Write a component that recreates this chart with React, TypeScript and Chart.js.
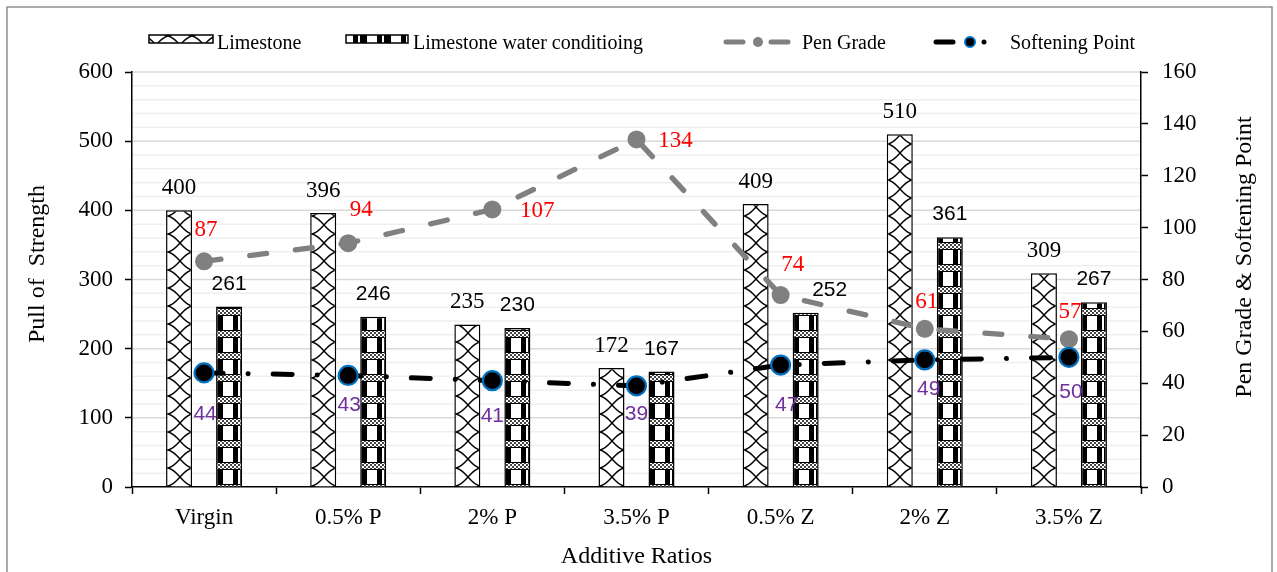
import React, { useEffect, useRef } from 'react';
import { Chart, registerables } from 'chart.js';

Chart.register(...registerables);

// ---------- data ----------
const categories = ['Virgin', '0.5% P', '2% P', '3.5% P', '0.5% Z', '2% Z', '3.5% Z'];
const limestone = [400, 396, 235, 172, 409, 510, 309];
const limestoneWater = [261, 246, 230, 167, 252, 361, 267];
const penGrade = [87, 94, 107, 134, 74, 61, 57];
const softeningPoint = [44, 43, 41, 39, 47, 49, 50];
const leftAxis = { min: 0, max: 600, step: 100, minorStep: 20 };
const rightAxis = { min: 0, max: 160, step: 20 };
const seriesNames = ['Limestone', 'Limestone water conditioing', 'Pen Grade', 'Softening Point'];
const axisTitles = { x: 'Additive Ratios', left: 'Pull of  Strength', right: 'Pen Grade & Softening Point' };

// ---------- styling (label nudges, not data) ----------
const waterLabelDx = [0, 0, 0, 0, 24, 0, 0];
const penLabelOffsets = [[2, -33], [13, -35], [45, 0], [39, 0], [12, -32], [2, -29], [1, -29]];
const softLabelOffsets = [[1, 40], [1, 28], [0, 34], [0, 27], [6, 39], [4, 28], [2, 34]];

const SERIF = '"Liberation Serif", "Times New Roman", serif';
const SANS = '"Liberation Sans", Arial, sans-serif';

function makeLimestonePattern(): CanvasPattern | string {
  const c = document.createElement('canvas');
  c.width = 24;
  c.height = 18;
  const g = c.getContext('2d');
  if (!g) return '#fff';
  g.fillStyle = '#fff';
  g.fillRect(0, 0, 24, 18);
  g.strokeStyle = '#000';
  g.lineWidth = 1.4;
  g.beginPath();
  g.moveTo(0, 0);
  g.bezierCurveTo(10, 2, 14, 16, 24, 18);
  g.moveTo(24, 0);
  g.bezierCurveTo(14, 2, 10, 16, 0, 18);
  g.stroke();
  const p = g.createPattern(c, 'repeat');
  return p || '#fff';
}

function makeWaterPattern(): CanvasPattern | string {
  const c = document.createElement('canvas');
  c.width = 24;
  c.height = 22;
  const g = c.getContext('2d');
  if (!g) return '#888';
  g.fillStyle = '#fff';
  g.fillRect(0, 0, 24, 22);
  g.fillStyle = '#000';
  g.fillRect(0, 8, 7, 14);
  g.fillRect(17, 8, 5, 14);
  g.fillStyle = '#444';
  for (let y = 0; y < 8; y += 2) {
    for (let x = 0; x < 24; x += 2) {
      if (((x + y) / 2) % 2 === 0) g.fillRect(x, y, 2, 2);
    }
  }
  g.fillStyle = '#000';
  g.fillRect(0, 0, 24, 1);
  g.fillRect(0, 7, 24, 1);
  const p = g.createPattern(c, 'repeat');
  return p || '#888';
}

function drawCentered(ctx: CanvasRenderingContext2D, text: string, cx: number, cy: number, size: number, family: string, color: string) {
  ctx.font = `${size}px ${family}`;
  ctx.fillStyle = color;
  ctx.textAlign = 'center';
  ctx.textBaseline = 'alphabetic';
  ctx.fillText(text, cx, cy + size * 0.34);
}

function drawVerticalTitle(ctx: CanvasRenderingContext2D, text: string, cx: number, cy: number, size: number) {
  ctx.save();
  ctx.translate(cx, cy);
  ctx.rotate(-Math.PI / 2);
  ctx.font = `${size}px ${SERIF}`;
  ctx.fillStyle = '#000';
  ctx.textAlign = 'center';
  ctx.textBaseline = 'middle';
  ctx.fillText(text, 0, 0);
  ctx.restore();
}

export default function App() {
  const ref = useRef<HTMLCanvasElement>(null);

  useEffect(() => {
    const canvas = ref.current;
    if (!canvas) return;
    const limePat = makeLimestonePattern();
    const waterPat = makeWaterPattern();

    const backgroundPlugin = {
      id: 'bgGrid',
      beforeDraw(chart: any) {
        const { ctx, chartArea, scales } = chart;
        ctx.save();
        ctx.fillStyle = '#fff';
        ctx.fillRect(0, 0, chart.width, chart.height);
        ctx.strokeStyle = '#767676';
        ctx.lineWidth = 1.2;
        ctx.strokeRect(7, 7, 1265, 620);
        const ys = scales.y;
        for (let v = leftAxis.min + leftAxis.minorStep; v <= leftAxis.max; v += leftAxis.minorStep) {
          const py = ys.getPixelForValue(v);
          ctx.strokeStyle = v % leftAxis.step === 0 ? '#d9d9d9' : '#efefef';
          ctx.lineWidth = 1.5;
          ctx.beginPath();
          ctx.moveTo(chartArea.left, py);
          ctx.lineTo(chartArea.right, py);
          ctx.stroke();
        }
        ctx.restore();
      },
    };

    const labelPlugin = {
      id: 'valueLabels',
      afterDatasetsDraw(chart: any) {
        const { ctx } = chart;
        ctx.save();
        const m0 = chart.getDatasetMeta(0);
        const m1 = chart.getDatasetMeta(1);
        const m2 = chart.getDatasetMeta(2);
        const m3 = chart.getDatasetMeta(3);
        m0.data.forEach((el: any, i: number) => {
          drawCentered(ctx, String(limestone[i]), el.x, el.y - 24, 23, SERIF, '#000');
        });
        m1.data.forEach((el: any, i: number) => {
          drawCentered(ctx, String(limestoneWater[i]), el.x + waterLabelDx[i], el.y - 24, 21, SANS, '#000');
        });
        m2.data.forEach((el: any, i: number) => {
          const [dx, dy] = penLabelOffsets[i];
          drawCentered(ctx, String(penGrade[i]), el.x + dx, el.y + dy, 23, SERIF, '#FF0000');
        });
        m3.data.forEach((el: any, i: number) => {
          const [dx, dy] = softLabelOffsets[i];
          drawCentered(ctx, String(softeningPoint[i]), el.x + dx, el.y + dy, 21, SANS, '#7030A0');
        });
        ctx.restore();
      },
    };

    const legendPlugin = {
      id: 'customLegend',
      afterDraw(chart: any) {
        const { ctx } = chart;
        ctx.save();
        // axis titles (both read bottom-to-top)
        drawVerticalTitle(ctx, axisTitles.left, 38, 264, 24);
        drawVerticalTitle(ctx, axisTitles.right, 1245, 257, 24);

        ctx.font = `20px ${SERIF}`;
        ctx.textAlign = 'left';
        ctx.textBaseline = 'alphabetic';
        const base = 49;
        // Limestone
        ctx.fillStyle = limePat as any;
        ctx.fillRect(149, 35, 64, 8);
        ctx.strokeStyle = '#000';
        ctx.lineWidth = 1.5;
        ctx.strokeRect(149, 35, 64, 8);
        ctx.fillStyle = '#000';
        ctx.fillText(seriesNames[0], 217, base);
        // Water conditioning
        ctx.fillStyle = waterPat as any;
        ctx.fillRect(346, 35, 62, 8);
        ctx.strokeRect(346, 35, 62, 8);
        ctx.fillStyle = '#000';
        ctx.fillText(seriesNames[1], 413, base);
        // Pen grade
        ctx.lineCap = 'round';
        ctx.strokeStyle = '#808080';
        ctx.lineWidth = 5;
        ctx.beginPath();
        ctx.moveTo(726, 42);
        ctx.lineTo(743, 42);
        ctx.moveTo(771, 42);
        ctx.lineTo(788, 42);
        ctx.stroke();
        ctx.fillStyle = '#808080';
        ctx.beginPath();
        ctx.arc(758, 42, 5, 0, Math.PI * 2);
        ctx.fill();
        ctx.fillStyle = '#000';
        ctx.fillText(seriesNames[2], 802, base);
        // Softening point
        ctx.strokeStyle = '#000';
        ctx.lineWidth = 5;
        ctx.beginPath();
        ctx.moveTo(936, 42);
        ctx.lineTo(953, 42);
        ctx.stroke();
        ctx.fillStyle = '#000';
        ctx.beginPath();
        ctx.arc(984, 42, 2.5, 0, Math.PI * 2);
        ctx.fill();
        ctx.beginPath();
        ctx.arc(970, 42, 5, 0, Math.PI * 2);
        ctx.fill();
        ctx.strokeStyle = '#0070C0';
        ctx.lineWidth = 2;
        ctx.stroke();
        ctx.fillStyle = '#000';
        ctx.fillText(seriesNames[3], 1010, base);
        ctx.restore();
      },
    };

    const chart = new Chart(canvas, {
      type: 'bar',
      data: {
        labels: categories,
        datasets: [
          {
            type: 'bar',
            label: seriesNames[0],
            data: limestone,
            backgroundColor: limePat as any,
            borderColor: '#000',
            borderWidth: 1.5,
            yAxisID: 'y',
            order: 2,
            categoryPercentage: 0.694,
            barPercentage: 0.52,
          },
          {
            type: 'bar',
            label: seriesNames[1],
            data: limestoneWater,
            backgroundColor: waterPat as any,
            borderColor: '#000',
            borderWidth: 1.5,
            yAxisID: 'y',
            order: 2,
            categoryPercentage: 0.694,
            barPercentage: 0.52,
          },
          {
            type: 'line',
            label: seriesNames[2],
            data: penGrade,
            borderColor: '#808080',
            backgroundColor: '#808080',
            borderWidth: 5.3,
            borderDash: [17, 29],
            borderCapStyle: 'round',
            pointRadius: 9,
            pointBorderWidth: 0,
            pointBackgroundColor: '#808080',
            pointBorderColor: '#808080',
            tension: 0,
            yAxisID: 'y1',
            order: 1,
          },
          {
            type: 'line',
            label: seriesNames[3],
            data: softeningPoint,
            borderColor: '#000',
            backgroundColor: '#000',
            borderWidth: 5,
            borderDash: [19, 25, 0.1, 25],
            borderCapStyle: 'round',
            pointRadius: 9.5,
            pointBorderWidth: 2.2,
            pointBackgroundColor: '#000',
            pointBorderColor: '#0070C0',
            tension: 0,
            yAxisID: 'y1',
            order: 0,
          },
        ] as any,
      },
      options: {
        responsive: false,
        animation: false,
        devicePixelRatio: 1,
        layout: { padding: { top: 72, left: 0, right: 0, bottom: 0 } },
        plugins: {
          legend: { display: false },
          tooltip: { enabled: false },
          title: { display: false },
        },
        scales: {
          x: {
            type: 'category',
            offset: true,
            grid: {
              display: true,
              drawOnChartArea: false,
              drawTicks: true,
              tickLength: 7,
              tickColor: '#000',
              tickWidth: 1.5,
              offset: true,
            },
            border: { display: true, color: '#000', width: 1.5 },
            ticks: { color: '#000', font: { family: SERIF, size: 23 }, padding: 10, maxRotation: 0, autoSkip: false },
            title: { display: true, text: axisTitles.x, color: '#000', font: { family: SERIF, size: 24 }, padding: { top: 0, bottom: 1 } },
            afterFit(scale: any) {
              scale.height = 85;
            },
          },
          y: {
            type: 'linear',
            position: 'left',
            min: leftAxis.min,
            max: leftAxis.max,
            grid: { display: true, drawOnChartArea: false, drawTicks: true, tickLength: 7, tickColor: '#000', tickWidth: 1.5 },
            border: { display: true, color: '#000', width: 1.5 },
            ticks: { stepSize: leftAxis.step, color: '#000', font: { family: SERIF, size: 23 }, padding: 12 },
            title: { display: false },
            afterFit(scale: any) {
              scale.width = 132;
            },
          },
          y1: {
            type: 'linear',
            position: 'right',
            min: rightAxis.min,
            max: rightAxis.max,
            grid: { display: true, drawOnChartArea: false, drawTicks: true, tickLength: 7, tickColor: '#000', tickWidth: 1.5 },
            border: { display: true, color: '#000', width: 1.5 },
            ticks: { stepSize: rightAxis.step, color: '#000', font: { family: SERIF, size: 23 }, padding: 14 },
            title: { display: false },
            afterFit(scale: any) {
              scale.width = 136;
            },
          },
        },
      } as any,
      plugins: [backgroundPlugin, labelPlugin, legendPlugin],
    });

    return () => {
      chart.destroy();
    };
  }, []);

  return (
    <div style={{ position: 'absolute', left: 0, top: 0, width: 1277, height: 572, background: '#fff' }}>
      <canvas ref={ref} width={1277} height={572} style={{ display: 'block', width: 1277, height: 572 }} />
    </div>
  );
}
